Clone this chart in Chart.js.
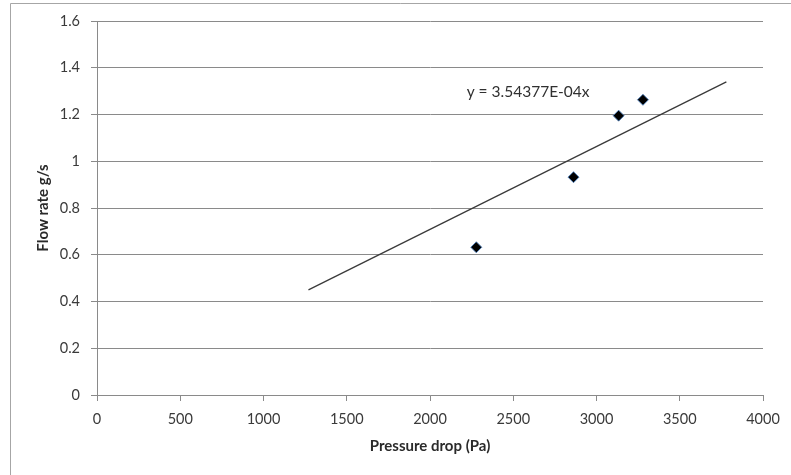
<!DOCTYPE html>
<html>
<head>
<meta charset="utf-8">
<script src="https://cdn.jsdelivr.net/npm/chart.js@4.4.0/dist/chart.umd.min.js"></script>
<style>
  html, body { margin: 0; padding: 0; background: #fff; }
  #wrap { width: 791px; height: 475px; position: relative; }
</style>
</head>
<body>
<div id="wrap"><canvas id="flowChart" width="791" height="475"></canvas></div>
<script>
// measured points (pressure drop Pa, flow rate g/s)
const pressureDrop = [2278, 2862, 3133, 3279];
const flowRate = [0.632, 0.932, 1.195, 1.263];

// linear trendline through origin, drawn over this x range
const trendSlope = 3.54377e-4;
const trendX = [1270, 3780];
const trendLabel = 'y = 3.54377E-04x';

const xTicks = [0, 500, 1000, 1500, 2000, 2500, 3000, 3500, 4000];
const yTicks = [0, 0.2, 0.4, 0.6, 0.8, 1, 1.2, 1.4, 1.6];

const gridColor = '#8a8a8a';
const textColor = '#3a3a3a';
const fontFamily = 'Lato, "Open Sans", sans-serif';

// outer frame like the spreadsheet chart area
const framePlugin = {
  id: 'frame',
  beforeDraw(chart) {
    const c = chart.ctx;
    c.save();
    c.strokeStyle = '#a6a6a6';
    c.lineWidth = 1;
    c.beginPath();
    c.moveTo(10.5, 475);
    c.lineTo(10.5, 3.5);
    c.lineTo(791, 3.5);
    c.stroke();
    c.restore();
  }
};

// equation text next to the trendline
const equationPlugin = {
  id: 'equation',
  afterDatasetsDraw(chart) {
    const c = chart.ctx;
    const x = chart.scales.x.getPixelForValue(2220);
    const y = chart.scales.y.getPixelForValue(1.295);
    c.save();
    c.fillStyle = '#303030';
    c.font = '15.5px ' + fontFamily;
    c.textBaseline = 'middle';
    c.fillText(trendLabel, x, y);
    c.restore();
  }
};

const ctx = document.getElementById('flowChart').getContext('2d');
new Chart(ctx, {
  type: 'scatter',
  data: {
    datasets: [
      {
        label: 'Trend',
        data: trendX.map(x => ({ x: x, y: trendSlope * x })),
        showLine: true,
        borderColor: '#3a3a3a',
        borderWidth: 1.3,
        pointRadius: 0,
        fill: false
      },
      {
        label: 'Flow rate',
        data: pressureDrop.map((p, i) => ({ x: p, y: flowRate[i] })),
        pointStyle: 'rectRot',
        pointRadius: 5.5,
        backgroundColor: '#000',
        borderColor: 'rgba(80,130,190,0.9)',
        borderWidth: 1
      }
    ]
  },
  options: {
    responsive: false,
    animation: false,
    layout: { padding: { left: 30, right: 28, top: 21, bottom: 0 } },
    plugins: {
      legend: { display: false },
      tooltip: { enabled: false }
    },
    scales: {
      x: {
        type: 'linear',
        min: 0,
        max: 4000,
        afterBuildTicks: scale => { scale.ticks = xTicks.map(v => ({ value: v })); },
        afterFit: scale => { scale.height = 80; },
        grid: { drawOnChartArea: false, color: gridColor, tickLength: 6, lineWidth: 1 },
        border: { color: gridColor, width: 1 },
        ticks: {
          color: textColor,
          font: { family: fontFamily, size: 14.5 },
          padding: 10,
          maxRotation: 0,
          callback: v => String(v)
        },
        title: {
          display: true,
          text: 'Pressure drop (Pa)',
          color: '#2a2a2a',
          font: { family: fontFamily, size: 15, weight: 'bold' },
          padding: { top: 0, bottom: 20 }
        }
      },
      y: {
        type: 'linear',
        min: 0,
        max: 1.6,
        afterBuildTicks: scale => { scale.ticks = yTicks.map(v => ({ value: v })); },
        afterFit: scale => { scale.width = 67; },
        grid: { color: gridColor, tickLength: 6, lineWidth: 1 },
        border: { color: gridColor, width: 1 },
        ticks: {
          color: textColor,
          font: { family: fontFamily, size: 14.5 },
          padding: 11,
          callback: v => String(v)
        },
        title: {
          display: true,
          text: 'Flow rate g/s',
          color: '#2a2a2a',
          font: { family: fontFamily, size: 15, weight: 'bold' },
          padding: { top: 4, bottom: 0 }
        }
      }
    }
  },
  plugins: [framePlugin, equationPlugin]
});
</script>
</body>
</html>
